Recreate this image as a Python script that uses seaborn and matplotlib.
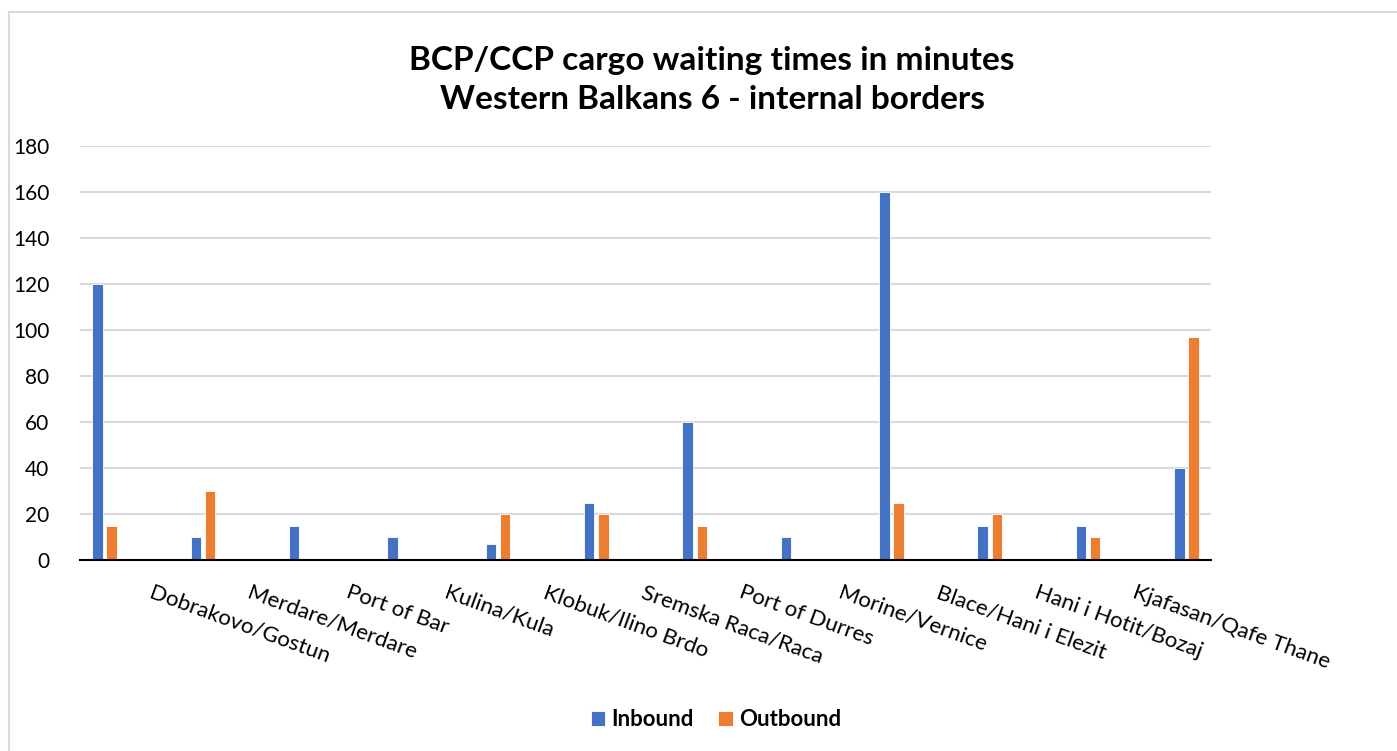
import numpy as np
import pandas as pd
import matplotlib.pyplot as plt
import seaborn as sns
from matplotlib.patches import Rectangle

# Datos (la primera categoria no tiene etiqueta visible)
categories = ['', 'Dobrakovo/Gostun', 'Merdare/Merdare', 'Port of Bar', 'Kulina/Kula',
              'Klobuk/Ilino Brdo', 'Sremska Raca/Raca', 'Port of Durres', 'Morine/Vernice',
              'Blace/Hani i Elezit', 'Hani i Hotit/Bozaj', 'Kjafasan/Qafe Thane']
inbound = [120, 10, 15, 10, 7, 25, 60, 10, 160, 15, 15, 40]
outbound = [15, 30, 0, 0, 20, 20, 15, 0, 25, 20, 10, 97]
series = ['Inbound', 'Outbound']
colors = ['#4472C4', '#ED7D31']
y_ticks = [0, 20, 40, 60, 80, 100, 120, 140, 160, 180]

df = pd.DataFrame({
    'category': categories * 2,
    'minutes': inbound + outbound,
    'direction': [series[0]] * len(categories) + [series[1]] * len(categories),
})

sns.set_theme(style='whitegrid')
plt.rcParams['font.family'] = ['Lato', 'DejaVu Sans']
plt.rcParams['text.color'] = 'black'
plt.rcParams['xtick.color'] = 'black'
plt.rcParams['ytick.color'] = 'black'

fig = plt.figure(figsize=(13.97, 7.51), dpi=100)
fig.patch.set_facecolor('white')
# borde del area del grafico (estilo Excel)
fig.patches.append(Rectangle((9 / 1397, -0.1), 1.2, 1 - 12 / 751 + 0.1, transform=fig.transFigure,
                             fill=False, edgecolor='#d9d9d9', linewidth=1.5))

ax = fig.add_axes([80 / 1397, 1 - 560 / 751, (1211 - 80) / 1397, (560 - 146) / 751])
sns.barplot(data=df, x='category', y='minutes', hue='direction', order=categories,
            hue_order=series, palette=colors, saturation=1, width=0.288, gap=0.26,
            edgecolor='white', linewidth=0.6, ax=ax)

ax.set_ylim(0, 180)
ax.set_yticks(y_ticks)
ax.tick_params(axis='y', labelsize=15, labelcolor='black', length=0, pad=22)
# etiquetas rotadas empezando en el limite de cada categoria
ax.set_xticks(np.arange(len(categories)) - 0.5, labels=categories)
for lbl in ax.get_xticklabels():
    lbl.set_rotation(-20)
    lbl.set_rotation_mode('anchor')
    lbl.set_ha('left')
    lbl.set_va('top')
ax.tick_params(axis='x', labelsize=16, labelcolor='black', length=0, pad=16)
ax.set_xlim(-0.25, len(categories) - 0.75)
ax.grid(axis='y', color='#d9d9d9', linewidth=1.5)
ax.grid(axis='x', visible=False)
ax.set_axisbelow(True)
for s in ['left', 'right', 'top']:
    ax.spines[s].set_visible(False)
ax.spines['bottom'].set_color('#000000')
ax.spines['bottom'].set_linewidth(1.5)
ax.set_xlabel('')
ax.set_ylabel('')

fig.text(712 / 1397, 1 - 80 / 751, 'BCP/CCP cargo waiting times in minutes\nWestern Balkans 6 - internal borders',
         ha='center', va='center', fontsize=24, fontweight='bold', linespacing=1.45, color='black')

handles, labels = ax.get_legend_handles_labels()
ax.legend_.remove()
fig.legend(handles, labels, loc='center', bbox_to_anchor=(716 / 1397, 1 - 720 / 751), ncol=2,
           frameon=False, prop={'weight': 'bold', 'size': 16}, handlelength=0.64, handleheight=0.64,
           handletextpad=0.3, columnspacing=1.1, labelcolor='black')

plt.savefig('out.png', dpi=100)
plt.close()
